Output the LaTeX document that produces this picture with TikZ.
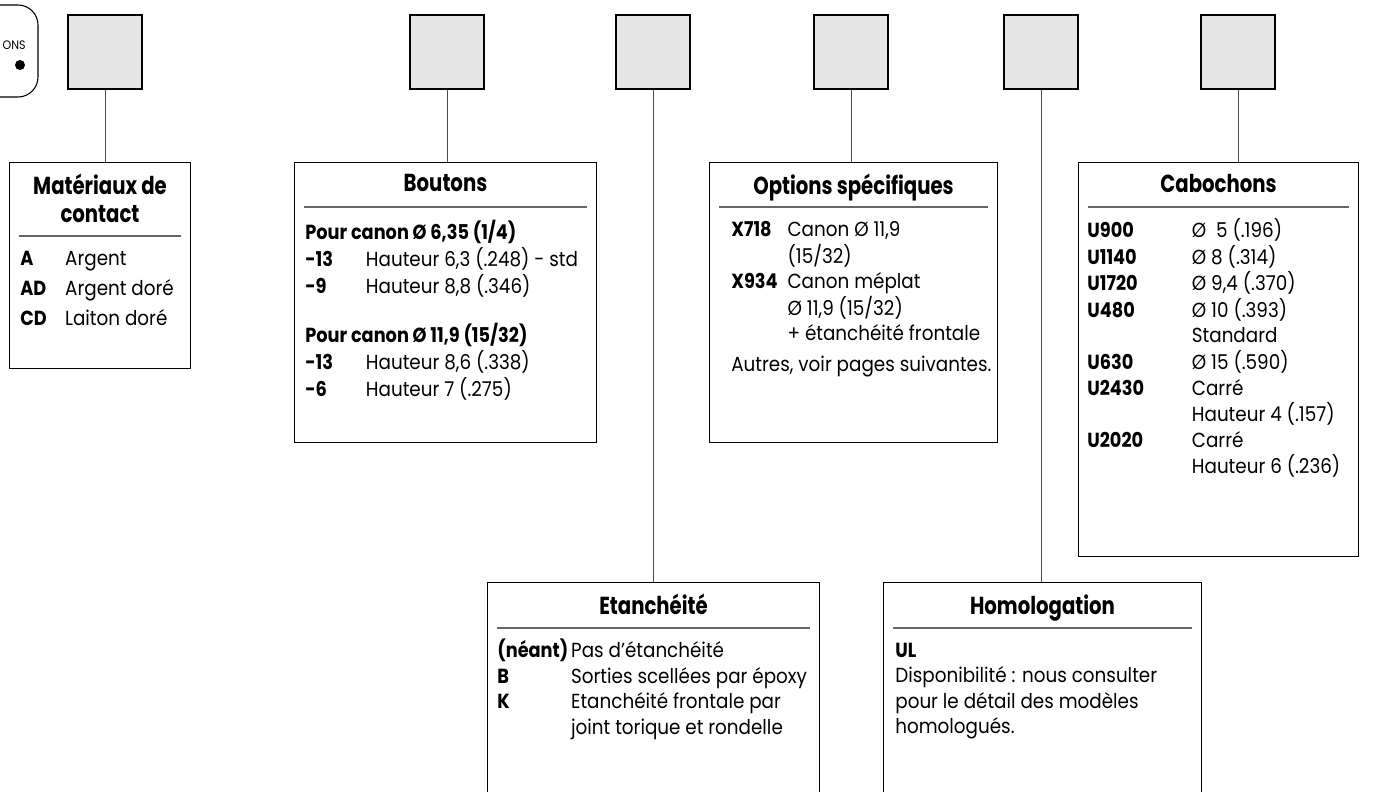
\documentclass[tikz,border=0pt]{standalone}
\usepackage{fontspec}
\setmainfont{Poppins}[FakeStretch=0.9, BoldFeatures={FakeStretch=0.87}]
\newfontfamily\titlefont{Poppins}[FakeStretch=0.8]
\usepackage{array}
\usetikzlibrary{positioning, calc}

\begin{document}
\begin{tikzpicture}[x=0.02cm, y=-0.02cm,
    case/.style={draw, line width=1.4pt, fill=black!10, minimum size=1.48cm, inner sep=0pt, anchor=north west},
    infobox/.style={draw, line width=0.6pt, anchor=north west, inner sep=0pt},
    boxtitle/.style={font=\titlefont\bfseries\fontsize{14}{15.5}\selectfont, align=center, anchor=north, inner sep=0pt},
    boxtext/.style={font=\fontsize{11.6}{14.5}\selectfont, anchor=north west, inner sep=0pt},
    rule/.style={black!60, line width=0.6pt},
    link/.style={black!70, line width=0.6pt}]
    \useasboundingbox (0,0) rectangle (1375,791);
    \draw[line width=0.6pt, rounded corners=0.4cm] (-60,5) rectangle (38,97);
    \node[font=\fontsize{7}{8}\selectfont, anchor=east, inner sep=0pt] (opts) at (26,45) {ONS};
    \fill (20,65) circle (0.1cm);
    \foreach \n/\x in {1/67, 2/409, 3/615, 4/813, 5/1003, 6/1200}
        \node[case] (sq\n) at (\x,14) {};
    \node[infobox, minimum width=3.62cm, minimum height=4.12cm] (mat) at (9,162) {};
    \node[infobox, minimum width=6.04cm, minimum height=5.6cm] (bout) at (294,162) {};
    \node[infobox, minimum width=5.76cm, minimum height=5.6cm] (opt) at (709,162) {};
    \node[infobox, minimum width=5.6cm, minimum height=7.88cm] (cab) at (1078,162) {};
    \node[infobox, minimum width=6.64cm, minimum height=5.2cm] (etan) at (487,582) {};
    \node[infobox, minimum width=6.36cm, minimum height=5.2cm] (homol) at (883,582) {};
    \draw[link] (sq1.south) -- (sq1.south |- mat.north);
    \draw[link] (sq2.south) -- (sq2.south |- bout.north);
    \draw[link] (sq3.south) -- (sq3.south |- etan.north);
    \draw[link] (sq4.south) -- (sq4.south |- opt.north);
    \draw[link] (sq5.south) -- (sq5.south |- homol.north);
    \draw[link] (sq6.south) -- (sq6.south |- cab.north);
    \foreach \b/\d in {mat/74, bout/45, opt/45, cab/45, etan/46, homol/46}
        \draw[rule] ($(\b.north west)+(10,\d)$) -- ($(\b.north east)+(-10,\d)$);
    \node[boxtitle] (matT) at ($(mat.north)+(0,12)$) {Matériaux de\\contact};
    \node[boxtitle] (boutT) at ($(bout.north)+(0,12)$) {Boutons};
    \node[boxtitle] (optT) at ($(opt.north)+(0,12)$) {Options spécifiques};
    \node[boxtitle] (cabT) at ($(cab.north)+(0,12)$) {Cabochons};
    \node[boxtitle] (etanT) at ($(etan.north)+(0,12)$) {Etanchéité};
    \node[boxtitle] (homolT) at ($(homol.north)+(0,12)$) {Homologation};
    \node[boxtext, font=\fontsize{11.6}{17}\selectfont] (matL) at ($(mat.north west)+(11,82)$) {%
        \begin{tabular}{@{}>{\bfseries}p{25.5pt}@{}l@{}}
        A & Argent\\ AD & Argent doré\\ CD & Laiton doré
        \end{tabular}};
    \node[boxtext] (boutL) at ($(bout.north west)+(11,58)$) {%
        \begin{tabular}{@{}>{\bfseries}p{34.5pt}@{}l@{}}
        \multicolumn{2}{@{}l@{}}{\bfseries Pour canon Ø 6,35 (1/4)}\\
        -13 & Hauteur 6,3 (.248) - std\\
        -9 & Hauteur 8,8 (.346)\\[13pt]
        \multicolumn{2}{@{}l@{}}{\bfseries Pour canon Ø 11,9 (15/32)}\\
        -13 & Hauteur 8,6 (.338)\\
        -6 & Hauteur 7 (.275)
        \end{tabular}};
    \node[boxtext] (optL) at ($(opt.north west)+(22,56)$) {%
        \begin{tabular}{@{}>{\bfseries}p{32pt}@{}l@{}}
        X718 & Canon Ø 11,9\\
         & (15/32)\\
        X934 & Canon méplat\\
         & Ø 11,9 (15/32)\\
         & + étanchéité frontale\\[3pt]
        \multicolumn{2}{@{}l@{}}{Autres, voir pages suivantes.}
        \end{tabular}};
    \node[boxtext] (cabL) at ($(cab.north west)+(9,56)$) {%
        \begin{tabular}{@{}>{\bfseries}p{59.5pt}@{}l@{}}
        U900 & Ø~~5 (.196)\\
        U1140 & Ø 8 (.314)\\
        U1720 & Ø 9,4 (.370)\\
        U480 & Ø 10 (.393)\\
         & Standard\\
        U630 & Ø 15 (.590)\\
        U2430 & Carré\\
         & Hauteur 4 (.157)\\
        U2020 & Carré\\
         & Hauteur 6 (.236)
        \end{tabular}};
    \node[boxtext] (etanL) at ($(etan.north west)+(10,57)$) {%
        \begin{tabular}{@{}>{\bfseries}p{42pt}@{}l@{}}
        (néant) & Pas d'étanchéité\\
        B & Sorties scellées par époxy\\
        K & Etanchéité frontale par\\
         & joint torique et rondelle
        \end{tabular}};
    \node[boxtext] (homolL) at ($(homol.north west)+(12,57)$) {%
        \begin{tabular}{@{}l@{}}
        \bfseries UL\\
        Disponibilité : nous consulter\\
        pour le détail des modèles\\
        homologués.
        \end{tabular}};
\end{tikzpicture}
\end{document}
